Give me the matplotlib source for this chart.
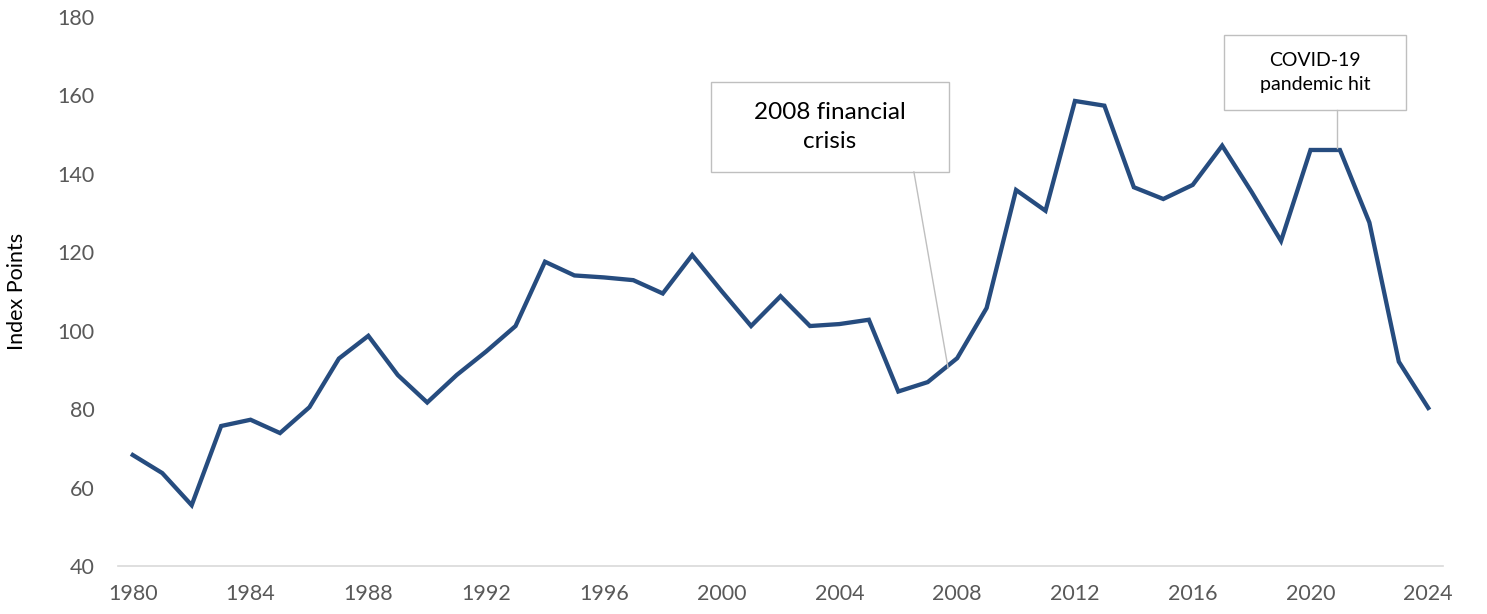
import matplotlib.pyplot as plt
from matplotlib.patches import Rectangle

years = list(range(1980, 2025))
index_points = [68.3, 63.7, 55.5, 75.7, 77.3, 73.9, 80.5, 92.9, 98.7, 88.7,
                81.7, 88.7, 94.7, 101.2, 117.6, 114.1, 113.6, 112.9, 109.5, 119.3,
                110.1, 101.2, 108.8, 101.2, 101.7, 102.8, 84.5, 86.9, 93.0, 105.8,
                135.9, 130.6, 158.6, 157.4, 136.6, 133.6, 137.2, 147.2, 135.4, 122.9,
                146.1, 146.1, 127.6, 92.1, 80.3]
xticks = list(range(1980, 2025, 4))
yticks = list(range(40, 181, 20))

plt.rcParams['font.family'] = ['Lato', 'DejaVu Sans']

fig = plt.figure(figsize=(14.87, 6.14), dpi=100)
ax = fig.add_axes([0.0794, 0.0782, 0.891, 0.894])

ax.plot(years, index_points, color='#264C7F', lw=3.1, solid_joinstyle='miter')

ax.set_xlim(1979.5, 2024.5)
ax.set_ylim(40, 180)
ax.set_xticks(xticks)
ax.set_yticks(yticks)
ax.tick_params(length=0, labelsize=15.5, colors='#595959')
ax.tick_params(axis='y', pad=17)
ax.tick_params(axis='x', pad=13)
for s in ['top', 'right', 'left']:
    ax.spines[s].set_visible(False)
ax.spines['bottom'].set_color('#D9D9D9')
ax.spines['bottom'].set_linewidth(1.2)

ax.set_ylabel('Index Points', fontsize=15.5, labelpad=22)

# annotation: 2008 financial crisis
ax.add_patch(Rectangle((1999.64, 140.5), 8.08, 22.9, fill=False,
                       edgecolor='#BFBFBF', lw=1, zorder=3))
ax.text(2003.68, 151.95, '2008 financial\ncrisis', ha='center', va='center',
        fontsize=17.5, linespacing=1.45, color='black')
ax.plot([2006.53, 2007.69], [140.5, 90.5], color='#BFBFBF', lw=1)

# annotation: COVID-19
ax.add_patch(Rectangle((2017.06, 156.3), 6.18, 19.1, fill=False,
                       edgecolor='#BFBFBF', lw=1, zorder=3))
ax.text(2020.15, 165.85, 'COVID-19\npandemic hit', ha='center', va='center',
        fontsize=14, linespacing=1.5, color='black')
ax.plot([2020.9, 2020.9], [156.3, 146.6], color='#BFBFBF', lw=1)

fig.savefig('out.png', dpi=100)
